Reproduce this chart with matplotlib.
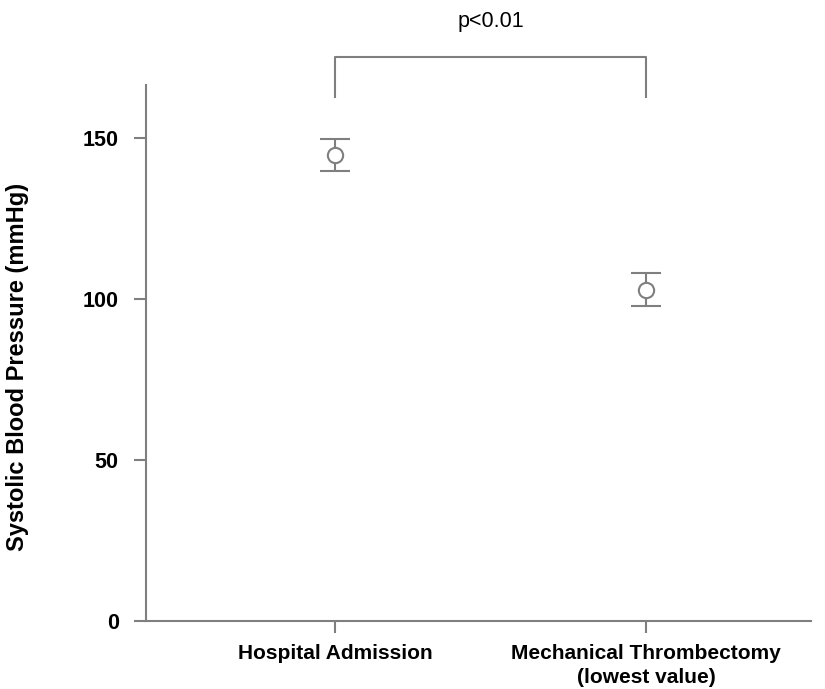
import matplotlib
matplotlib.use("Agg")
import matplotlib.pyplot as plt

plt.rcParams['font.family'] = ['Liberation Sans', 'DejaVu Sans']

# data
groups = ["Hospital Admission", "Mechanical Thrombectomy\n(lowest value)"]
means = [144.7, 102.8]
ci_low = [139.8, 97.8]
ci_high = [149.7, 108.1]
p_text = "p<0.01"
bracket_top = 175.2
bracket_leg = 162.7

grey = "#7f7f7f"

fig = plt.figure(figsize=(8.25, 6.89), dpi=100)
ax = fig.add_axes([146/825, 68/689, 665/825, 536/689])

x = list(range(len(groups)))
yerr = [[m - l for m, l in zip(means, ci_low)], [h - m for m, h in zip(means, ci_high)]]
ax.errorbar(x, means, yerr=yerr, fmt='o', color=grey, mfc='white', mec=grey,
            ms=11, mew=1.5, elinewidth=1.5, capsize=10.8, capthick=1.5)

ax.set_xlim(-0.608, 1.53)
ax.set_ylim(0, 166.5)
ax.set_yticks([0, 50, 100, 150])
ax.set_xticks(x)
ax.set_xticklabels(groups, fontsize=15, fontweight='bold', linespacing=1.35)
for lab in ax.get_yticklabels():
    lab.set_fontweight('bold')
    lab.set_fontsize(15.5)
ax.tick_params(length=8.6, width=1.5, color=grey)
ax.tick_params(axis='y', pad=11)
ax.tick_params(axis='x', pad=8)
ax.set_ylabel("Systolic Blood Pressure (mmHg)", fontsize=17, fontweight='bold')
ax.yaxis.set_label_coords(-0.176, 0.474)

for s in ['top', 'right']:
    ax.spines[s].set_visible(False)
for s in ['left', 'bottom']:
    ax.spines[s].set_color(grey)
    ax.spines[s].set_linewidth(1.5)

# significance bracket
ax.plot([x[0], x[0], x[1], x[1]], [bracket_leg, bracket_top, bracket_top, bracket_leg],
        color=grey, lw=1.5, clip_on=False)
ax.text((x[0] + x[1]) / 2, 186.3, p_text, ha='center', va='center',
        fontsize=15.5, clip_on=False)

fig.savefig("out.png", dpi=100)
